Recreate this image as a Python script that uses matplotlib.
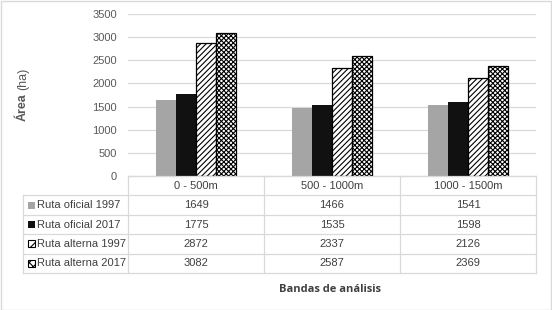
import matplotlib
matplotlib.use("Agg")
import matplotlib.pyplot as plt
from matplotlib.patches import Rectangle
import numpy as np

plt.rcParams['font.family'] = ['Liberation Sans', 'DejaVu Sans']
plt.rcParams['hatch.linewidth'] = 0.8

categories = ["0 - 500m", "500 - 1000m", "1000 - 1500m"]
series_names = ["Ruta oficial 1997", "Ruta oficial 2017", "Ruta alterna 1997", "Ruta alterna 2017"]
ruta_oficial_1997 = [1649, 1466, 1541]
ruta_oficial_2017 = [1775, 1535, 1598]
ruta_alterna_1997 = [2872, 2337, 2126]
ruta_alterna_2017 = [3082, 2587, 2369]
series_values = [ruta_oficial_1997, ruta_oficial_2017, ruta_alterna_1997, ruta_alterna_2017]
yticks = [0, 500, 1000, 1500, 2000, 2500, 3000, 3500]

styles = [
    dict(facecolor="#a5a5a5", edgecolor="none", hatch=None),
    dict(facecolor="#111111", edgecolor="none", hatch=None),
    dict(facecolor="white", edgecolor="black", hatch="//////"),
    dict(facecolor="white", edgecolor="black", hatch="xxxxxxx"),
]

W, H = 552, 310
fig = plt.figure(figsize=(W / 100, H / 100), dpi=100)
fig.patches.append(Rectangle((0.5 / W, 0.5 / H), 1 - 1.5 / W, 1 - 1.5 / H, transform=fig.transFigure,
                             fill=False, edgecolor="#d9d9d9", lw=1))

ax_l, ax_r, ax_top, ax_bot = 128, 536, 14, 176
ax = fig.add_axes([ax_l / W, 1 - ax_bot / H, (ax_r - ax_l) / W, (ax_bot - ax_top) / H])

x = np.arange(len(categories))
w = 0.146
for j, (vals, st) in enumerate(zip(series_values, styles)):
    ax.bar(x + (j - 1.5) * w, vals, width=w, facecolor=st["facecolor"],
           edgecolor=st["edgecolor"], hatch=st["hatch"], linewidth=0.9 if st["hatch"] else 0, zorder=3)

ax.set_xlim(-0.5, len(categories) - 0.5)
ax.set_ylim(0, 3500)
ax.set_yticks(yticks)
ax.set_yticklabels([str(v) for v in yticks], fontsize=8, color="#595959")
ax.tick_params(axis="y", length=0, pad=8)
ax.set_xticks([])
ax.grid(axis="y", color="#d9d9d9", lw=0.9, zorder=0)
for s in ["top", "right", "left"]:
    ax.spines[s].set_visible(False)
ax.spines["bottom"].set_color("#d9d9d9")

# y label: bold "Área" + regular "(ha)"
t1 = fig.text(23 / W, 1 - 121 / H, "Área", rotation=90, ha="center", va="bottom",
              fontsize=9, fontweight="bold", color="#595959")
ax.annotate("(ha)", xy=(0.5, 1), xycoords=t1, xytext=(0, 2), textcoords="offset points",
            rotation=90, ha="center", va="bottom",
            fontsize=9, color="#595959", annotation_clip=False)

# data table
tab_l, tab_r, tab_top, tab_bot = 23, ax_r, 176, 273
unit = (ax_r - ax_l) / len(categories)
left_ext = (ax_l - tab_l) / unit
tax = fig.add_axes([tab_l / W, 1 - tab_bot / H, (tab_r - tab_l) / W, (tab_bot - tab_top) / H])
tax.set_xlim(-0.5 - left_ext, len(categories) - 0.5)
nrows = len(series_names) + 1
tax.set_ylim(nrows, 0)
tax.axis("off")
gc = "#d9d9d9"
xl = -0.5 - left_ext
xr = len(categories) - 0.5
tax.plot([-0.5, xr], [0, 0], color=gc, lw=0.9, clip_on=False)
for r in range(1, nrows + 1):
    tax.plot([xl, xr], [r, r], color=gc, lw=0.9, clip_on=False)
tax.plot([xl, xl], [1, nrows], color=gc, lw=0.9, clip_on=False)
for c in range(len(categories) + 1):
    tax.plot([c - 0.5, c - 0.5], [0, nrows], color=gc, lw=0.9, clip_on=False)

tc = "#404040"
for i, cat in enumerate(categories):
    tax.text(i, 0.5, cat, ha="center", va="center", fontsize=8, color=tc)
px = 1 / unit
row_h = (tab_bot - tab_top) / nrows
for j, (name, vals, st) in enumerate(zip(series_names, series_values, styles)):
    r = j + 1
    msz = 7
    tax.add_patch(Rectangle((xl + 5 * px, r + 0.5 - msz / 2 / row_h), msz * px, msz / row_h,
                            facecolor=st["facecolor"], edgecolor=st["edgecolor"] if st["hatch"] else "none",
                            hatch=st["hatch"].replace("//////", "///").replace("xxxxxxx", "xxxx") if st["hatch"] else None,
                            lw=0.8, clip_on=False))
    tax.text(xl + 14 * px, r + 0.5, name, ha="left", va="center", fontsize=8, color=tc)
    for i, v in enumerate(vals):
        tax.text(i, r + 0.5, str(v), ha="center", va="center", fontsize=8, color=tc)

fig.text(330 / W, 1 - 290 / H, "Bandas de análisis", ha="center", va="center",
         fontsize=8, fontweight="bold", color="#404040", family=["Open Sans", "DejaVu Sans"])

fig.savefig("out.png", dpi=100)
